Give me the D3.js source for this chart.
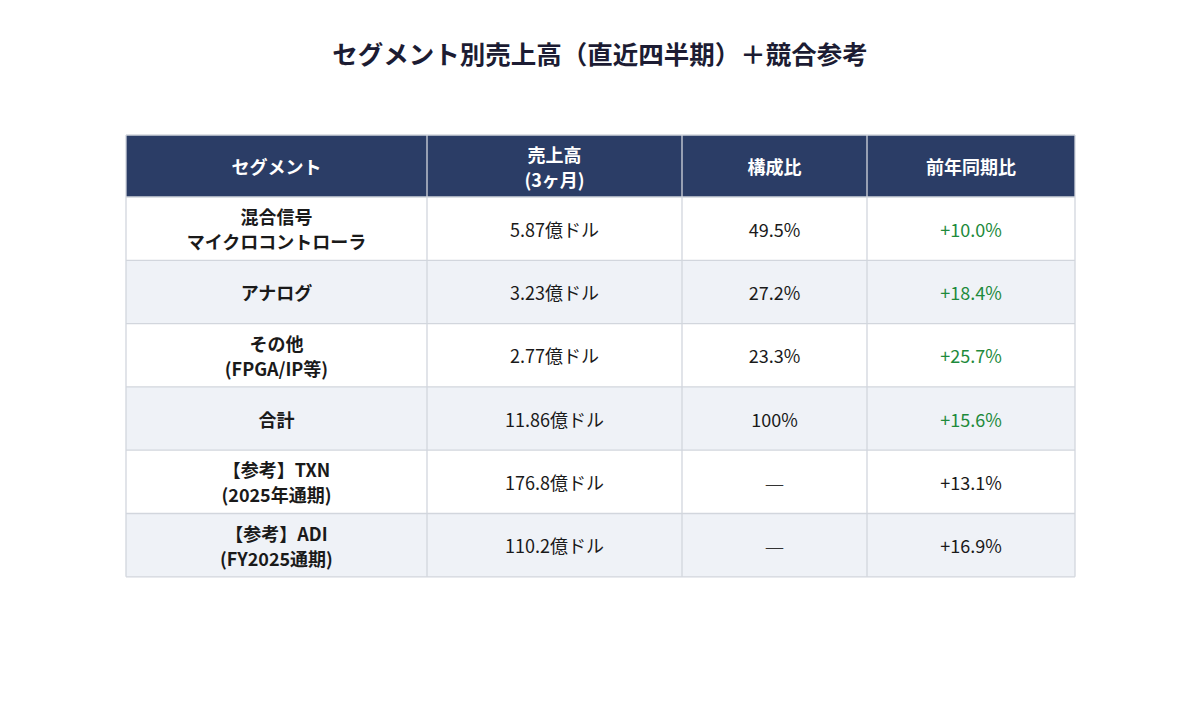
<!DOCTYPE html>
<html>
<head>
<meta charset="utf-8">
<script src="https://cdn.jsdelivr.net/npm/d3@7"></script>
<style>
  body { margin: 0; background: #fff; font-family: "Noto Sans CJK JP", "Noto Sans", sans-serif; }
</style>
</head>
<body>
<div id="chart"></div>
<script>
  const title = "セグメント別売上高（直近四半期）＋競合参考";
  const headers = ["セグメント", "売上高\n(3ヶ月)", "構成比", "前年同期比"];
  const segments = ["混合信号\nマイクロコントローラ", "アナログ", "その他\n(FPGA/IP等)", "合計", "【参考】TXN\n(2025年通期)", "【参考】ADI\n(FY2025通期)"];
  const revenues = ["5.87億ドル", "3.23億ドル", "2.77億ドル", "11.86億ドル", "176.8億ドル", "110.2億ドル"];
  const shares = ["49.5%", "27.2%", "23.3%", "100%", "—", "—"];
  const growth = ["+10.0%", "+18.4%", "+25.7%", "+15.6%", "+13.1%", "+16.9%"];
  const highlight = [true, true, true, true, false, false];
  const colWidths = [301, 255, 185, 208];

  const W = 1200, H = 711;
  const tableLeft = 126, tableTop = 135, headerH = 62, rowH = 63.3;
  const fontSize = "18px", lineH = 25;

  const svg = d3.select("#chart").append("svg").attr("width", W).attr("height", H);

  svg.append("text")
    .attr("x", W / 2).attr("y", 52)
    .attr("text-anchor", "middle").attr("dominant-baseline", "central")
    .style("font-size", "25.5px").style("font-weight", "700").style("fill", "#1c1c33")
    .text(title);

  // column scale (cumulative widths)
  const colEdges = [0];
  colWidths.forEach((w, i) => colEdges.push(colEdges[i] + w));
  const tableW = colEdges[colEdges.length - 1];
  const colX = d3.scaleOrdinal().domain(d3.range(4)).range(colEdges.slice(0, 4).map(e => tableLeft + e));

  const rowY = d3.scaleBand().domain(d3.range(segments.length))
    .range([tableTop + headerH, tableTop + headerH + rowH * segments.length]);

  const rows = segments.map((s, i) => [s, revenues[i], shares[i], growth[i]]);

  function multiline(sel, txt, cx, cy, lh) {
    const lines = txt.split("\n");
    const t = sel.append("text").attr("text-anchor", "middle");
    lines.forEach((l, k) => {
      t.append("tspan").attr("x", cx)
        .attr("y", cy + (k - (lines.length - 1) / 2) * lh)
        .attr("dominant-baseline", "central")
        .text(l);
    });
    return t;
  }

  // header
  const hg = svg.append("g");
  hg.append("rect").attr("x", tableLeft).attr("y", tableTop).attr("width", tableW).attr("height", headerH)
    .attr("fill", "#2b3d66");
  headers.forEach((h, j) => {
    multiline(hg, h, colX(j) + colWidths[j] / 2, tableTop + headerH / 2, lineH)
      .style("fill", "#fff").style("font-size", fontSize).style("font-weight", "700");
  });

  // body rows
  const rg = svg.append("g").selectAll("g").data(rows).join("g");
  rg.append("rect")
    .attr("x", tableLeft).attr("y", (d, i) => rowY(i))
    .attr("width", tableW).attr("height", rowY.bandwidth())
    .attr("fill", (d, i) => i % 2 === 0 ? "#ffffff" : "#eff2f7");

  rg.each(function (d, i) {
    const g = d3.select(this);
    const cy = rowY(i) + rowY.bandwidth() / 2;
    d.forEach((v, j) => {
      const t = multiline(g, v, colX(j) + colWidths[j] / 2, cy, lineH)
        .style("font-size", fontSize)
        .style("fill", j === 3 && highlight[i] ? "#1e8a3c" : "#1a1a1a")
        .style("font-weight", j === 0 ? "700" : "400");
      if (v === "—") t.style("fill", "#333").style("font-weight", "300").style("font-size", "22px");
    });
  });

  // grid lines
  const grid = svg.append("g").attr("stroke", "#d2d6dd").attr("stroke-width", 1.3).attr("fill", "none");
  const bottom = tableTop + headerH + rowH * segments.length;
  rows.forEach((d, i) => {
    grid.append("line").attr("x1", tableLeft).attr("x2", tableLeft + tableW)
      .attr("y1", rowY(i)).attr("y2", rowY(i));
  });
  grid.append("line").attr("x1", tableLeft).attr("x2", tableLeft + tableW).attr("y1", bottom).attr("y2", bottom);
  colEdges.forEach(e => {
    grid.append("line").attr("x1", tableLeft + e).attr("x2", tableLeft + e)
      .attr("y1", tableTop).attr("y2", bottom);
  });
  grid.append("line").attr("x1", tableLeft).attr("x2", tableLeft + tableW).attr("y1", tableTop).attr("y2", tableTop);
</script>
</body>
</html>
